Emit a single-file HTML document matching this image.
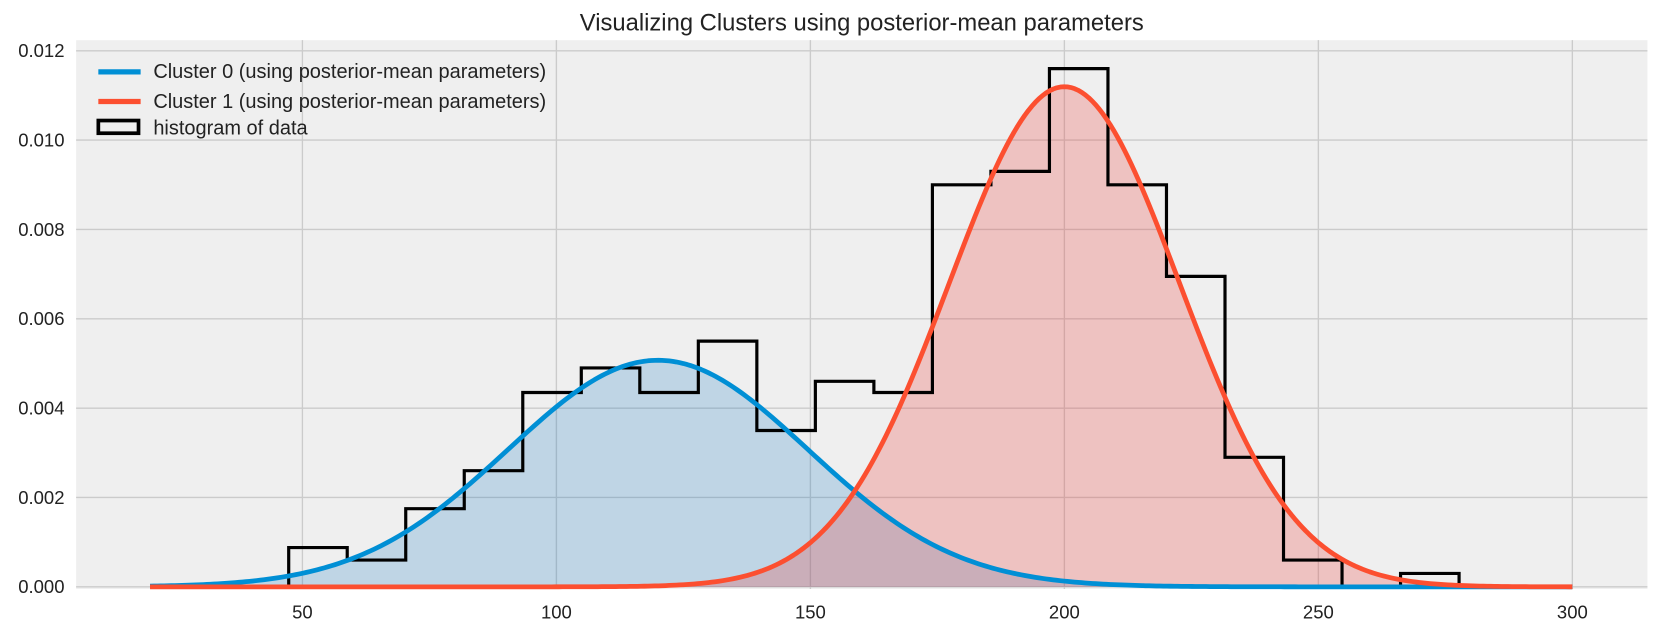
<!DOCTYPE html>
<html><head><meta charset="utf-8"><style>
html,body{margin:0;padding:0;background:#fff;}
svg{display:block;font-family:"Liberation Sans",sans-serif;}
</style></head><body>
<svg id="chart" width="1658" height="634" viewBox="0 0 1568 599.6" preserveAspectRatio="none" xmlns="http://www.w3.org/2000/svg">
<text x="815" y="29" font-size="22.5" text-anchor="middle" fill="#222">Visualizing Clusters using posterior-mean parameters</text>
<rect x="72" y="38" width="1486" height="519" fill="#efefef"/>
<g id="grid"></g><g id="fills"></g><g id="hist"></g><g id="lines"></g><g id="ticks"></g>
<g>
<line x1="93" y1="68" x2="133" y2="68" stroke="#008fd5" stroke-width="5"/>
<text x="145" y="74" font-size="18.9" fill="#222">Cluster 0 (using posterior-mean parameters)</text>
<line x1="93" y1="96" x2="133" y2="96" stroke="#fc4f30" stroke-width="5"/>
<text x="145" y="102" font-size="18.9" fill="#222">Cluster 1 (using posterior-mean parameters)</text>
<rect x="93" y="114" width="38" height="12" fill="none" stroke="#000" stroke-width="3.5"/>
<text x="145" y="127" font-size="18.9" fill="#222">histogram of data</text>
</g>
</svg>
<script>
const xTicks=[50,100,150,200,250,300];
const yTicks=[0,0.002,0.004,0.006,0.008,0.010,0.012];
const binStart=47.3, binWidth=11.52;
const histValues=[0.00088,0.0006,0.00175,0.0026,0.00435,0.0049,0.00435,0.0055,0.0035,0.0046,0.00435,0.009,0.0093,0.0116,0.009,0.00695,0.0029,0.0006,0,0.0003];
const clusterMeans=[120,200];
const clusterSds=[29.5,22.7];
const clusterWeights=[0.375,0.637];
const clusterColors=["#008fd5","#fc4f30"];
const clusterFills=["rgba(0,110,190,0.2)","rgba(235,60,55,0.25)"];
const xRange=[20,300];

const NS="http://www.w3.org/2000/svg";
const X=v=>286+(v-50)*(1487-286)/250;
const Y=v=>555-v*(555-48)/0.012;
function mk(tag,attrs,parent){const e=document.createElementNS(NS,tag);for(const k in attrs)e.setAttribute(k,attrs[k]);document.getElementById(parent).appendChild(e);return e;}

xTicks.forEach(t=>{
 const g=mk('line',{x1:X(t),x2:X(t),y1:38,y2:557,stroke:'#cbcbcb','stroke-width':1.3},'grid');
 
 
 const l=mk('text',{x:X(t),y:585,'font-size':17.5,'text-anchor':'middle',fill:'#222'},'ticks');
 l.textContent=String(t);
 
 
});
yTicks.forEach(t=>{
 const g=mk('line',{x1:72,x2:1558,y1:Y(t),y2:Y(t),stroke:'#cbcbcb','stroke-width':1.3},'grid');
 
 
 const l=mk('text',{x:61,y:Y(t)+6,'font-size':17.5,'text-anchor':'end',fill:'#222'},'ticks');
 l.textContent=t.toFixed(3);
 
 
});

clusterMeans.forEach((m,i)=>{
 const pts=[];
 for(let k=0;k<=400;k++){const v=xRange[0]+(xRange[1]-xRange[0])*k/400;
  const d=clusterWeights[i]*Math.exp(-0.5*((v-m)/clusterSds[i])**2)/(clusterSds[i]*Math.sqrt(2*Math.PI));
  pts.push(X(v).toFixed(2)+','+Y(d).toFixed(2));}
 const f=mk('polygon',{points:X(xRange[0])+','+Y(0)+' '+pts.join(' ')+' '+X(xRange[1])+','+Y(0),fill:clusterFills[i]},'fills');
 
 
 const l=mk('polyline',{points:pts.join(' '),fill:'none',stroke:clusterColors[i],'stroke-width':4.5,'stroke-linejoin':'round'},'lines');
 
 
});

let d='M'+X(binStart)+','+Y(0);
histValues.forEach((v,i)=>{const a=binStart+i*binWidth,b=a+binWidth;d+=' L'+X(a)+','+Y(v)+' L'+X(b)+','+Y(v);});
d+=' L'+X(binStart+histValues.length*binWidth)+','+Y(0);
const h=mk('path',{d:d,fill:'none',stroke:'#000','stroke-width':3},'hist');


</script>
</body></html>
